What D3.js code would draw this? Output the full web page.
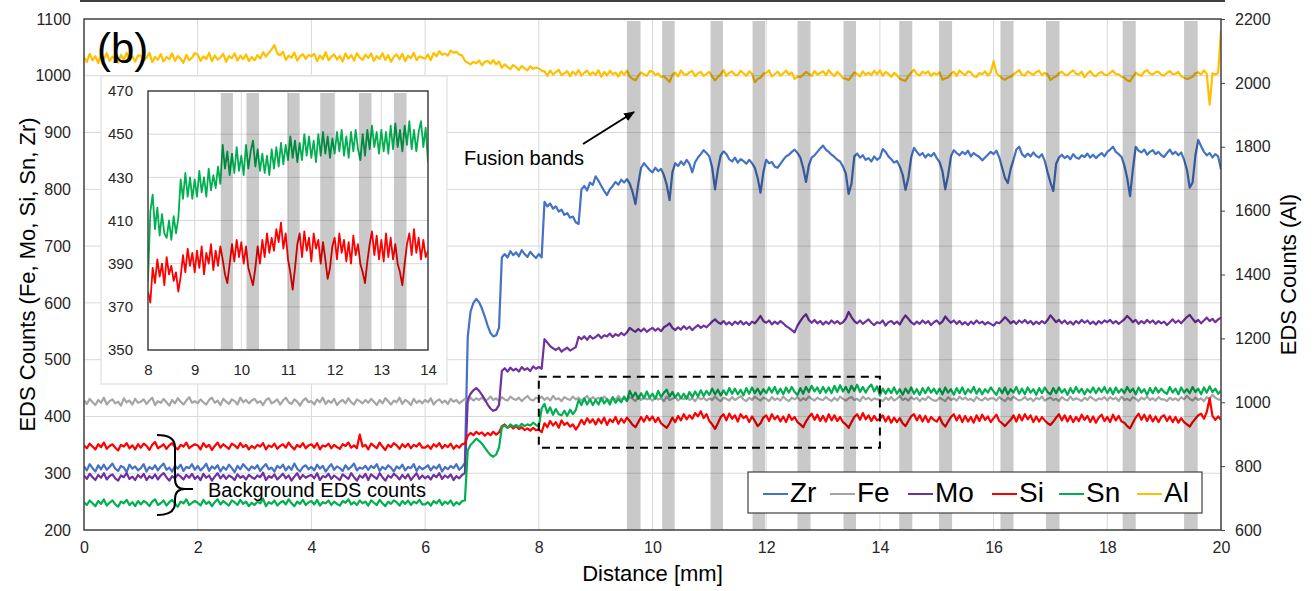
<!DOCTYPE html>
<html><head><meta charset="utf-8">
<script src="https://cdn.jsdelivr.net/npm/d3@7"></script>
<style>body{margin:0;background:#fff;} text{font-family:"Liberation Sans",Arial,sans-serif;}</style>
</head><body><svg id="c" width="1315" height="591"></svg>
<script>
// ---------- DATA (0.05 mm sampling) ----------
const distance = d3.range(0, 401).map(i => +(i * 0.05).toFixed(2));
const zr = [312,305,316,309,303,314,307,315,306,311,317,308,304,313,310,302,315,308,312,305,
309,316,303,311,307,314,305,312,317,306,310,303,313,308,315,304,311,309,316,306,
313,305,310,317,304,312,308,314,303,311,306,315,309,302,313,307,316,310,305,312,
308,314,304,311,316,307,310,303,313,309,315,305,312,306,317,308,303,311,314,307,
311,305,315,308,313,303,310,316,306,312,309,304,314,307,311,317,305,310,308,313,
306,313,309,316,304,311,307,314,310,303,312,308,315,305,311,309,316,304,312,307,
310,314,305,312,308,315,303,311,307,313,309,316,306,311,318,540,585,600,607,601,
590,576,560,547,541,543,556,680,686,680,691,684,689,682,693,686,681,690,684,679,
686,680,778,770,775,766,770,761,764,755,758,750,752,742,739,800,806,798,812,808,
823,815,806,797,790,800,806,813,808,817,812,818,810,795,774,810,838,846,840,834,
830,838,832,836,825,808,781,830,846,841,849,843,852,845,830,848,856,862,869,864,
858,838,800,835,860,867,862,853,849,856,847,853,850,845,852,846,838,820,794,830,
852,846,848,840,838,845,852,858,861,866,870,864,856,838,813,842,856,860,866,872,
877,870,866,861,857,852,849,840,828,792,810,858,863,856,860,852,855,849,858,852,
856,871,866,858,853,847,850,840,826,799,820,856,873,866,860,864,856,862,858,864,
855,848,832,800,825,858,869,864,860,866,862,868,858,864,860,857,851,856,861,866,
862,868,856,838,820,811,836,852,870,875,862,857,863,858,865,859,856,862,850,830,
812,797,845,856,861,855,859,853,862,856,854,860,857,863,856,861,855,860,864,858,
866,870,875,866,862,857,842,820,788,835,875,868,865,870,861,866,869,862,866,860,
857,864,870,862,866,860,865,852,835,803,812,860,887,876,866,860,864,856,862,858,
835];
const fe = [428,422,431,425,420,429,424,433,421,427,430,423,426,419,432,425,428,421,431,424,
426,430,422,428,433,420,427,424,431,425,419,429,423,432,426,421,428,434,424,427,
423,430,425,421,429,433,424,428,420,431,426,422,430,427,421,433,425,429,423,428,
431,424,427,420,429,432,423,426,430,421,428,433,425,422,430,426,419,428,432,425,
427,421,430,425,433,422,428,424,431,420,426,429,423,432,425,421,430,427,423,429,
424,431,426,420,429,423,432,427,421,428,425,433,422,429,426,420,431,424,428,423,
429,425,432,421,427,430,424,428,422,431,426,429,423,427,431,426,433,428,432,429,
433,428,430,435,429,432,427,434,430,428,435,431,429,433,427,432,436,430,428,433,
431,435,429,433,428,436,430,432,427,434,431,429,435,430,433,428,432,436,429,434,
430,433,428,435,431,427,433,429,436,430,432,428,434,431,427,435,429,433,430,432,
428,434,430,432,427,435,429,431,434,428,433,430,436,429,432,427,434,430,433,428,
432,429,435,430,427,433,431,428,434,429,432,436,430,427,433,429,435,431,428,433,
431,427,434,429,432,428,435,430,427,433,430,434,428,432,429,435,431,428,433,430,
429,434,430,427,433,428,435,431,428,432,434,429,431,427,435,430,433,428,432,430,
430,427,433,429,434,428,431,436,429,432,428,434,430,433,427,432,429,435,431,428,
428,433,430,427,434,429,432,428,435,430,433,429,431,427,434,430,428,433,429,432,
432,428,434,430,427,433,429,435,431,428,430,434,429,432,427,433,430,435,428,431,
433,429,431,427,434,430,428,435,429,432,430,427,433,429,435,431,428,432,430,434,
428,434,430,433,427,435,429,431,428,434,431,427,433,430,435,429,432,428,434,430,
430,427,433,429,432,428,434,430,436,431,428,433,429,432,427,434,431,438,433,430,
429];
const mo = [296,290,299,293,288,297,292,300,289,295,298,291,287,296,293,300,290,294,288,297,
292,299,288,295,291,298,289,296,300,293,287,295,291,298,294,289,297,292,299,290,
295,288,299,292,296,287,294,300,291,297,290,296,293,288,298,292,295,289,297,293,
290,296,293,301,288,295,292,298,289,294,299,291,296,287,294,300,290,297,292,295,
297,291,300,288,295,293,299,290,296,292,288,298,294,290,300,293,287,296,292,299,
288,298,294,290,300,293,287,296,292,299,295,289,297,291,298,288,294,300,290,296,
291,295,289,297,293,300,290,296,292,298,288,295,291,297,300,430,440,446,450,445,
438,430,421,414,410,412,420,480,485,479,486,481,484,479,487,482,485,480,488,484,
487,484,536,530,524,520,517,521,514,518,521,516,519,522,540,536,541,535,542,537,
540,544,538,543,541,546,540,545,542,547,543,548,556,552,549,554,550,555,549,553,
556,551,555,550,557,560,564,556,552,557,553,559,554,558,552,557,561,556,560,557,
562,567,571,566,563,568,562,566,561,567,563,568,562,566,561,567,564,570,577,568,
565,569,562,567,563,568,564,559,556,552,548,560,568,575,580,570,565,570,564,568,
562,567,563,569,564,568,563,566,572,584,575,568,564,569,563,567,571,565,561,566,
564,569,560,566,568,563,567,562,571,578,572,566,562,567,563,569,564,568,561,566,
569,563,567,576,570,565,569,563,568,562,566,561,567,563,569,564,567,562,566,563,
560,566,564,569,575,570,564,568,563,569,565,570,564,568,562,567,563,568,564,570,
578,572,566,570,564,569,563,567,562,568,564,570,565,569,563,567,562,568,564,569,
566,570,564,568,563,567,571,577,572,566,570,563,568,564,570,565,569,563,568,564,
567,561,566,571,565,569,564,570,575,579,572,566,570,564,569,574,568,572,566,571,
574];
const si = [349,344,352,347,342,351,346,354,343,348,351,345,340,350,347,353,344,349,342,351,
345,352,348,341,350,355,344,347,351,343,349,353,346,342,350,347,354,344,348,351,
349,342,353,346,350,341,348,354,345,351,347,343,352,349,344,353,346,350,342,348,
344,350,347,353,342,349,346,352,343,348,351,345,354,347,342,350,346,353,344,349,
351,345,353,342,349,347,352,344,350,346,343,351,348,354,345,349,344,368,347,350,
342,352,348,344,354,347,341,350,346,353,349,343,351,346,352,344,350,347,353,345,
345,349,343,351,347,353,344,350,346,352,343,349,345,351,352,366,371,367,373,369,
372,366,371,367,373,368,372,383,386,380,384,379,383,378,381,376,379,375,380,376,
377,372,388,381,392,384,390,380,393,385,389,382,386,377,384,394,386,397,389,395,
386,396,388,398,385,395,390,399,387,396,389,398,392,385,381,390,399,391,401,393,
400,390,398,388,384,380,388,398,390,401,393,404,395,402,396,406,400,409,397,404,
392,386,378,388,399,404,393,405,396,402,391,404,397,401,390,400,392,383,388,398,
402,392,404,395,401,391,400,390,403,394,399,390,386,381,391,399,405,394,403,392,
401,391,404,393,402,392,399,390,386,380,390,399,404,394,406,395,402,392,401,393,
396,402,391,400,389,398,390,397,388,383,392,400,404,393,402,391,401,390,399,394,
391,399,388,382,391,399,404,393,402,390,401,391,399,389,402,392,403,394,400,390,
397,403,392,388,383,389,394,402,391,403,393,404,395,402,390,400,391,399,393,388,
385,391,398,404,393,402,391,401,390,399,392,403,394,401,390,400,389,398,403,392,
399,390,403,393,401,391,389,383,379,389,398,405,394,403,392,402,391,400,390,399,
402,392,400,390,399,389,397,390,386,382,390,396,402,405,396,408,432,401,394,400,
394];
const sn = [249,244,252,247,242,251,246,254,243,248,252,245,241,250,247,253,244,249,242,251,
245,251,248,242,250,254,244,247,252,243,249,253,246,241,250,247,254,244,248,251,
248,243,253,246,250,242,249,254,245,251,247,243,252,249,244,253,246,250,242,248,
244,250,247,255,242,249,246,252,243,248,251,245,254,247,242,250,246,253,244,249,
251,245,253,243,249,247,252,244,250,246,243,251,248,254,245,249,244,252,247,250,
243,252,248,244,253,247,242,250,246,252,249,243,251,246,252,244,250,247,253,245,
245,249,243,251,247,253,244,250,246,252,243,249,245,251,252,340,350,355,361,357,
352,345,338,332,329,333,345,381,384,380,386,382,385,381,387,383,386,384,389,385,
382,414,422,406,416,403,413,404,402,410,401,412,404,411,429,420,432,421,430,420,
429,421,433,423,430,421,434,424,431,425,435,427,445,434,442,431,441,432,444,433,
440,431,445,434,442,447,435,443,433,441,432,440,431,443,434,444,435,446,436,445,
438,449,439,447,437,446,438,450,440,449,439,447,437,450,440,451,441,449,439,448,
441,451,442,452,440,449,439,451,442,452,443,438,450,440,452,443,454,444,451,441,
452,442,451,441,454,443,455,444,452,442,454,445,456,443,452,442,451,456,444,453,
437,449,440,449,441,451,440,448,438,449,441,451,440,448,438,450,441,451,442,449,
440,449,439,451,442,448,438,450,441,451,439,448,442,452,440,449,439,448,442,451,
444,438,450,441,451,439,448,442,452,440,449,439,451,442,448,438,450,441,451,443,
439,450,441,451,442,448,438,450,441,452,442,449,439,448,442,451,441,450,443,452,
441,450,439,451,442,448,441,452,443,449,439,451,442,448,438,450,441,451,442,449,
443,440,452,442,449,439,451,442,448,441,452,443,449,439,451,442,453,443,449,440,
445];
const al = [2080,2066,2091,2071,2084,2062,2089,2074,2093,2069,2082,2075,2064,2088,2072,2094,2070,2083,2067,2086,
2085,2070,2079,2094,2065,2082,2072,2090,2067,2081,2074,2092,2069,2084,2076,2063,2088,2071,2079,2093,
2088,2069,2083,2075,2094,2068,2086,2073,2080,2091,2066,2084,2077,2092,2070,2085,2074,2089,2068,2081,
2071,2087,2076,2096,2082,2094,2105,2118,2092,2086,2098,2072,2085,2079,2095,2070,2083,2090,2075,2088,
2083,2091,2068,2086,2074,2096,2071,2082,2089,2073,2084,2067,2092,2076,2087,2070,2093,2079,2072,2088,
2078,2092,2069,2084,2075,2093,2072,2087,2066,2082,2089,2074,2091,2068,2085,2077,2094,2071,2083,2079,
2076,2089,2071,2094,2083,2099,2088,2092,2085,2101,2094,2097,2089,2086,2069,2063,2058,2066,2061,2070,
2055,2066,2069,2060,2071,2058,2067,2047,2058,2050,2043,2056,2049,2040,2053,2045,2039,2052,2044,2048,
2045,2038,2036,2022,2039,2026,2034,2041,2024,2030,2037,2021,2035,2026,2040,2023,2031,2038,2025,2033,
2025,2040,2019,2034,2023,2038,2027,2032,2020,2036,2025,2038,2020,2012,2008,2022,2033,2026,2022,2037,
2036,2024,2030,2018,2021,2012,2003,2026,2032,2020,2039,2027,2025,2033,2037,2021,2030,2034,2022,2028,
2034,2020,2008,2018,2027,2040,2021,2032,2036,2025,2024,2038,2030,2022,2036,2028,2002,2012,2016,2029,
2031,2039,2020,2027,2035,2023,2030,2038,2026,2033,2012,2020,2018,2025,2034,2028,2022,2037,2026,2031,
2037,2024,2040,2029,2021,2034,2026,2015,2013,2009,2020,2033,2028,2020,2036,2025,2032,2024,2038,2027,
2039,2022,2034,2028,2019,2031,2024,2013,2009,2006,2021,2032,2041,2027,2023,2035,2029,2036,2022,2031,
2026,2033,2010,2014,2017,2028,2035,2022,2039,2030,2024,2036,2033,2021,2019,2031,2027,2036,2023,2033,
2068,2030,2022,2014,2010,2016,2019,2027,2033,2040,2025,2023,2036,2030,2025,2034,2038,2024,2031,2027,
2009,2016,2020,2030,2035,2026,2024,2033,2039,2028,2026,2035,2018,2029,2037,2025,2021,2030,2034,2026,
2024,2031,2038,2027,2027,2019,2016,2008,2005,2019,2032,2026,2022,2035,2040,2029,2026,2034,2035,2025,
2023,2031,2037,2027,2028,2034,2021,2016,2012,2015,2019,2030,2033,2026,2039,2028,1932,2030,2026,2031,
2165];
const seriesNames = ["Zr", "Fe", "Mo", "Si", "Sn", "Al"];
const xTicks = [0, 2, 4, 6, 8, 10, 12, 14, 16, 18, 20];
const leftTicks = [200, 300, 400, 500, 600, 700, 800, 900, 1000, 1100];
const rightTicks = [600, 800, 1000, 1200, 1400, 1600, 1800, 2000, 2200];
const fusionBands = [[9.55,9.79],[10.17,10.39],[11.02,11.24],[11.76,11.98],[12.55,12.78],[13.36,13.58],
  [14.34,14.57],[15.04,15.27],[16.12,16.35],[16.92,17.16],[18.27,18.50],[19.35,19.59]];
const insetXTicks = [8, 9, 10, 11, 12, 13, 14];
const insetYTicks = [350, 370, 390, 410, 430, 450, 470];
const insetBands = [[9.56,9.82],[10.11,10.38],[10.99,11.25],[11.69,11.99],[12.52,12.79],[13.27,13.54]];
const insetRange = [8, 14];
const zoomBox = {x0: 8, x1: 14, y0: 345, y1: 470};

// ---------- STYLE ----------
const colors = {Zr:"#4472C4", Fe:"#A5A5A5", Mo:"#7030A0", Si:"#FF0000", Sn:"#00B050", Al:"#FFC000"};
const seriesData = {Zr: zr, Fe: fe, Mo: mo, Si: si, Sn: sn, Al: al};
const axisCol = "#404040", gridCol = "#d9d9d9", textCol = "#262626";
const fmt = d3.format("d");

const svg = d3.select("#c");
const M = {l:84, r:1221, t:19, b:530};
const x = d3.scaleLinear().domain([0,20]).range([M.l, M.r]);
const yL = d3.scaleLinear().domain([200,1100]).range([M.b, M.t]);
const yR = d3.scaleLinear().domain([600,2200]).range([M.b, M.t]);

const defs = svg.append("defs");
defs.append("clipPath").attr("id","mainClip").append("rect")
  .attr("x", M.l).attr("y", M.t - 2).attr("width", M.r - M.l).attr("height", M.b - M.t + 2);
defs.append("marker").attr("id","arr").attr("viewBox","0 0 10 10").attr("refX",9).attr("refY",5)
  .attr("markerWidth",11).attr("markerHeight",11).attr("markerUnits","userSpaceOnUse").attr("orient","auto")
  .append("path").attr("d","M0,1 L10,5 L0,9 z").attr("fill","#000");

// top separator line
svg.append("line").attr("x1",80).attr("x2",1225).attr("y1",1).attr("y2",1).attr("stroke","#404040").attr("stroke-width",2);

// gridlines
const grid = svg.append("g");
grid.selectAll(".gx").data(xTicks.slice(1, -1)).join("line")
  .attr("x1", d => x(d)).attr("x2", d => x(d)).attr("y1", M.t).attr("y2", M.b)
  .attr("stroke", gridCol).attr("stroke-width", 1);
grid.selectAll(".gy").data(leftTicks.slice(1, -1)).join("line")
  .attr("x1", M.l).attr("x2", M.r).attr("y1", d => yL(d)).attr("y2", d => yL(d))
  .attr("stroke", gridCol).attr("stroke-width", 1);

// series
const plot = svg.append("g").attr("clip-path","url(#mainClip)");
seriesNames.forEach(name => {
  const yS = name === "Al" ? yR : yL;
  const line = d3.line().x((d, i) => x(distance[i])).y(d => yS(d));
  plot.append("path").datum(seriesData[name]).attr("d", line)
    .attr("fill","none").attr("stroke", colors[name]).attr("stroke-width", 2.2).attr("stroke-linejoin","round");
});

// fusion bands (translucent overlay)
plot.selectAll(".band").data(fusionBands).join("rect")
  .attr("x", d => x(d[0])).attr("width", d => x(d[1]) - x(d[0]))
  .attr("y", M.t + 2).attr("height", M.b - M.t - 2)
  .attr("fill","#000").attr("fill-opacity",0.21);

// frame
svg.append("rect").attr("x",M.l).attr("y",M.t).attr("width",M.r-M.l).attr("height",M.b-M.t)
  .attr("fill","none").attr("stroke",axisCol).attr("stroke-width",1.5);

// axes
const axL = svg.append("g").attr("transform",`translate(${M.l},0)`)
  .call(d3.axisLeft(yL).tickValues(leftTicks).tickFormat(fmt).tickSize(0).tickPadding(13));
const axB = svg.append("g").attr("transform",`translate(0,${M.b})`)
  .call(d3.axisBottom(x).tickValues(xTicks).tickFormat(fmt).tickSize(0).tickPadding(12));
const axR = svg.append("g").attr("transform",`translate(${M.r},0)`)
  .call(d3.axisRight(yR).tickValues(rightTicks).tickFormat(fmt).tickSize(4).tickPadding(10));
[axL, axB, axR].forEach(g => {
  g.select(".domain").remove();
  g.selectAll("text").attr("font-size", 16).attr("fill", textCol).attr("font-family", '"Liberation Sans",Arial,sans-serif');
  g.selectAll("line").attr("stroke", axisCol);
});

// axis titles
svg.append("text").attr("transform",`translate(27,${(M.t+M.b)/2}) rotate(-90)`).attr("text-anchor","middle")
  .attr("font-size",22).attr("fill","#000").attr("dy","0.35em").text("EDS Counts (Fe, Mo, Si, Sn, Zr)");
svg.append("text").attr("transform",`translate(1288,${(M.t+M.b)/2}) rotate(-90)`).attr("text-anchor","middle")
  .attr("font-size",22).attr("fill","#000").attr("dy","0.35em").text("EDS Counts (Al)");
svg.append("text").attr("x",(M.l+M.r)/2).attr("y",581).attr("text-anchor","middle")
  .attr("font-size",22).attr("fill","#000").text("Distance [mm]");

// panel label
svg.append("text").attr("x",97).attr("y",63).attr("font-size",42).attr("fill","#000").text("(b)");

// dashed zoom box
svg.append("rect").attr("x",x(zoomBox.x0)).attr("y",yL(zoomBox.y1))
  .attr("width",x(zoomBox.x1)-x(zoomBox.x0)).attr("height",yL(zoomBox.y0)-yL(zoomBox.y1))
  .attr("fill","none").attr("stroke","#000").attr("stroke-width",2).attr("stroke-dasharray","8,6");

// annotations
svg.append("text").attr("x",464).attr("y",165).attr("font-size",20).attr("fill","#000").text("Fusion bands");
svg.append("line").attr("x1",583).attr("y1",144).attr("x2",634).attr("y2",112)
  .attr("stroke","#000").attr("stroke-width",2).attr("marker-end","url(#arr)");
svg.append("path").attr("d","M157,435 Q175,435 175,447 L175,479 Q175,489 185,489 L193,489 M185,489 Q175,489 175,499 L175,503 Q175,515 157,515")
  .attr("fill","none").attr("stroke","#000").attr("stroke-width",2);
svg.append("text").attr("x",208).attr("y",497).attr("font-size",20).attr("fill","#000").text("Background EDS counts");

// ---------- INSET ----------
svg.append("rect").attr("x",101).attr("y",76).attr("width",346).attr("height",308)
  .attr("fill","#fff").attr("stroke",gridCol).attr("stroke-width",1);
const I = {l:148, r:428, t:91, b:350};
const xi = d3.scaleLinear().domain(insetRange).range([I.l, I.r]);
const yi = d3.scaleLinear().domain([350,470]).range([I.b, I.t]);
defs.append("clipPath").attr("id","insetClip").append("rect")
  .attr("x", I.l).attr("y", I.t).attr("width", I.r - I.l).attr("height", I.b - I.t);
const ig = svg.append("g");
ig.selectAll(".igx").data(insetXTicks.slice(1,-1)).join("line")
  .attr("x1", d => xi(d)).attr("x2", d => xi(d)).attr("y1", I.t).attr("y2", I.b).attr("stroke", gridCol);
ig.selectAll(".igy").data(insetYTicks.slice(1,-1)).join("line")
  .attr("x1", I.l).attr("x2", I.r).attr("y1", d => yi(d)).attr("y2", d => yi(d)).attr("stroke", gridCol);
const iplot = svg.append("g").attr("clip-path","url(#insetClip)");
const idx = distance.map((d,i) => i).filter(i => distance[i] >= insetRange[0] && distance[i] <= insetRange[1]);
["Sn","Si"].forEach(name => {
  const arr = idx.map(i => ({d: distance[i], v: seriesData[name][i]}));
  iplot.append("path").datum(arr).attr("d", d3.line().x(p => xi(p.d)).y(p => yi(p.v)))
    .attr("fill","none").attr("stroke", colors[name]).attr("stroke-width", 1.8).attr("stroke-linejoin","round");
});
iplot.selectAll(".iband").data(insetBands).join("rect")
  .attr("x", d => xi(d[0])).attr("width", d => xi(d[1]) - xi(d[0]))
  .attr("y", I.t + 2).attr("height", I.b - I.t - 2).attr("fill","#000").attr("fill-opacity",0.21);
svg.append("rect").attr("x",I.l).attr("y",I.t).attr("width",I.r-I.l).attr("height",I.b-I.t)
  .attr("fill","none").attr("stroke",axisCol).attr("stroke-width",1.5);
const iaxL = svg.append("g").attr("transform",`translate(${I.l},0)`)
  .call(d3.axisLeft(yi).tickValues(insetYTicks).tickFormat(fmt).tickSize(0).tickPadding(15));
const iaxB = svg.append("g").attr("transform",`translate(0,${I.b})`)
  .call(d3.axisBottom(xi).tickValues(insetXTicks).tickFormat(fmt).tickSize(0).tickPadding(14));
[iaxL, iaxB].forEach(g => {
  g.select(".domain").remove();
  g.selectAll("text").attr("font-size", 15).attr("fill", textCol).attr("font-family", '"Liberation Sans",Arial,sans-serif');
});

// ---------- LEGEND ----------
const lg = svg.append("g");
lg.append("rect").attr("x",748).attr("y",472).attr("width",454).attr("height",41)
  .attr("fill","#fff").attr("stroke",axisCol).attr("stroke-width",1.2);
const legendX = [763, 830, 908, 992, 1059, 1137];
seriesNames.forEach((name, i) => {
  lg.append("line").attr("x1", legendX[i]).attr("x2", legendX[i] + 25).attr("y1", 494).attr("y2", 494)
    .attr("stroke", colors[name]).attr("stroke-width", 2);
  lg.append("text").attr("x", legendX[i] + 27).attr("y", 502).attr("font-size", 28).attr("fill","#000").text(name);
});

// length sanity check (debug)
const bad = seriesNames.filter(n => seriesData[n].length !== distance.length);
if (bad.length) svg.append("text").attr("x",300).attr("y",300).attr("fill","magenta").attr("font-size",20)
  .text("LEN " + bad.map(n => n + ":" + seriesData[n].length).join(" "));
</script></body></html>
